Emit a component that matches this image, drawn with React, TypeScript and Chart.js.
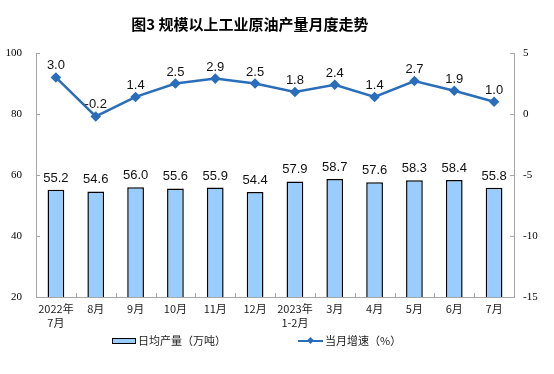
import React, { useEffect, useRef } from "react";
import { Chart, registerables } from "chart.js";

Chart.register(...registerables);

const categories: (string | string[])[] = [
  ["2022年", "7月"], "8月", "9月", "10月", "11月", "12月",
  ["2023年", "1-2月"], "3月", "4月", "5月", "6月", "7月",
];
const dailyOutput = [55.2, 54.6, 56.0, 55.6, 55.9, 54.4, 57.9, 58.7, 57.6, 58.3, 58.4, 55.8];
const monthlyGrowth = [3.0, -0.2, 1.4, 2.5, 2.9, 2.5, 1.8, 2.4, 1.4, 2.7, 1.9, 1.0];
const titleText = "图3 规模以上工业原油产量月度走势";
const barLegend = "日均产量（万吨）";
const lineLegend = "当月增速（%）";

const BAR_FILL = "#99CCFF";
const LINE_COLOR = "#2A6EBB";
const AXIS_COLOR = "#A6A6A6";

const labelPlugin = {
  id: "valueLabels",
  afterDatasetsDraw(chart: any) {
    const ctx = chart.ctx;
    ctx.save();
    ctx.font = "13px 'Liberation Sans', Arial, sans-serif";
    ctx.fillStyle = "#111";
    ctx.textAlign = "center";
    ctx.textBaseline = "alphabetic";
    const barMeta = chart.getDatasetMeta(1);
    barMeta.data.forEach((el: any, i: number) => {
      ctx.fillText(dailyOutput[i].toFixed(1), el.x, el.y - 8);
    });
    const lineMeta = chart.getDatasetMeta(0);
    lineMeta.data.forEach((el: any, i: number) => {
      ctx.fillText(monthlyGrowth[i].toFixed(1), el.x, el.y - 8);
    });
    ctx.restore();
  },
  afterDraw(chart: any) {
    const ctx = chart.ctx;
    const { left, right, bottom } = chart.chartArea;
    ctx.save();
    ctx.strokeStyle = AXIS_COLOR;
    ctx.lineWidth = 1;
    const yl = chart.scales.y;
    yl.ticks.forEach((t: any) => {
      const y = Math.round(yl.getPixelForValue(t.value)) + 0.5;
      ctx.beginPath();
      ctx.moveTo(left, y);
      ctx.lineTo(left + 4, y);
      ctx.stroke();
    });
    const yr = chart.scales.y1;
    yr.ticks.forEach((t: any) => {
      const y = Math.round(yr.getPixelForValue(t.value)) + 0.5;
      ctx.beginPath();
      ctx.moveTo(right, y);
      ctx.lineTo(right - 4, y);
      ctx.stroke();
    });
    const n = categories.length;
    const w = (right - left) / n;
    for (let i = 1; i < n; i++) {
      const x = Math.round(left + i * w) + 0.5;
      ctx.beginPath();
      ctx.moveTo(x, bottom);
      ctx.lineTo(x, bottom - 4);
      ctx.stroke();
    }
    ctx.restore();
  },
};

export default function App() {
  const ref = useRef<HTMLCanvasElement | null>(null);
  useEffect(() => {
    if (!ref.current) return;
    const chart = new Chart(ref.current, {
      type: "bar",
      data: {
        labels: categories as any,
        datasets: [
          {
            type: "line",
            label: lineLegend,
            data: monthlyGrowth,
            yAxisID: "y1",
            borderColor: LINE_COLOR,
            backgroundColor: LINE_COLOR,
            borderWidth: 2.5,
            pointStyle: "rectRot",
            pointRadius: 3.5,
            pointBackgroundColor: LINE_COLOR,
            pointBorderColor: LINE_COLOR,
            tension: 0,
            order: 0,
          } as any,
          {
            type: "bar",
            label: barLegend,
            data: dailyOutput,
            yAxisID: "y",
            backgroundColor: BAR_FILL,
            borderColor: "#000",
            borderWidth: 1.5,
            categoryPercentage: 1,
            barPercentage: 0.42,
            order: 1,
          } as any,
        ],
      },
      options: {
        animation: false,
        responsive: false,
        devicePixelRatio: 1,
        layout: { padding: { top: 53, left: 0, right: 0, bottom: 0 } },
        plugins: {
          legend: { display: false },
          title: { display: false },
          tooltip: { enabled: false },
        },
        scales: {
          x: {
            offset: true,
            grid: { display: false, drawTicks: false, tickLength: 0 },
            border: { display: true, color: AXIS_COLOR, width: 1 },
            ticks: {
              autoSkip: false,
              maxRotation: 0,
              padding: 5,
              color: "#222",
              font: { family: "'Noto Sans CJK SC', sans-serif", size: 11, lineHeight: 1.25 },
            },
            afterFit(scale: any) {
              scale.height = 77;
            },
          },
          y: {
            position: "left",
            min: 20,
            max: 100,
            ticks: {
              stepSize: 20,
              padding: 14,
              color: "#000",
              font: { family: "'Liberation Serif', 'Times New Roman', serif", size: 11 },
            },
            grid: { display: false, drawTicks: false, tickLength: 0 },
            border: { display: true, color: AXIS_COLOR, width: 1 },
            afterFit(scale: any) {
              scale.width = 36;
            },
          },
          y1: {
            position: "right",
            min: -15,
            max: 5,
            ticks: {
              stepSize: 5,
              padding: 9,
              color: "#000",
              font: { family: "'Liberation Serif', 'Times New Roman', serif", size: 11 },
            },
            grid: { display: false, drawTicks: false, tickLength: 0 },
            border: { display: true, color: AXIS_COLOR, width: 1 },
            afterFit(scale: any) {
              scale.width = 40;
            },
          },
        },
      },
      plugins: [labelPlugin],
    });
    return () => chart.destroy();
  }, []);

  const cjk = "'Noto Sans CJK SC', sans-serif";
  return (
    <div style={{ position: "fixed", left: 0, top: 0, width: 554, height: 374, background: "#fff", overflow: "hidden" }}>
      <canvas ref={ref} width={554} height={374} style={{ position: "absolute", left: 0, top: 0, width: 554, height: 374 }} />
      <div
        style={{
          position: "absolute", left: 0, top: 14, width: 500, textAlign: "center",
          fontFamily: cjk, fontWeight: "bold", fontSize: 15, lineHeight: "20px", color: "#000",
        }}
      >
        {titleText}
      </div>
      <div
        style={{
          position: "absolute", left: 112, top: 338, width: 24, height: 6, boxSizing: "border-box",
          border: "1.5px solid #000", background: BAR_FILL,
        }}
      />
      <div style={{ position: "absolute", left: 138, top: 332, fontFamily: cjk, fontSize: 11, lineHeight: "17px", color: "#222" }}>
        {barLegend}
      </div>
      <div style={{ position: "absolute", left: 298, top: 340, width: 25, height: 2, background: LINE_COLOR }} />
      <div
        style={{
          position: "absolute", left: 308, top: 338, width: 5, height: 5, background: LINE_COLOR,
          transform: "rotate(45deg)",
        }}
      />
      <div style={{ position: "absolute", left: 325, top: 332, fontFamily: cjk, fontSize: 11, lineHeight: "17px", color: "#222" }}>
        {lineLegend}
      </div>
    </div>
  );
}
